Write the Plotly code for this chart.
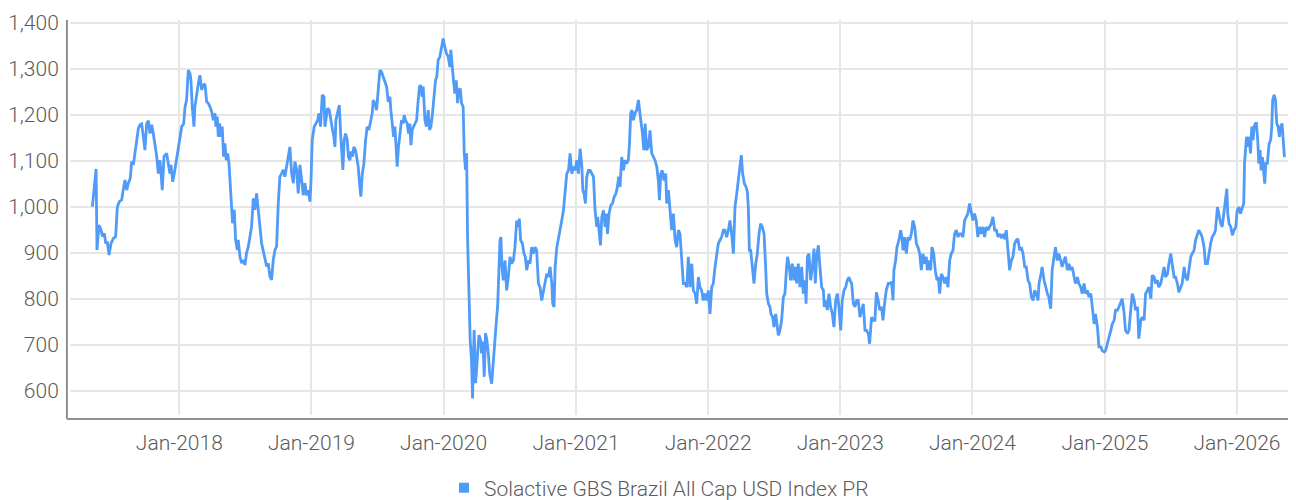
import numpy as np
import pandas as pd
import plotly.graph_objects as go

SERIES_NAME = "Solactive GBS Brazil All Cap USD Index PR"

# decimal-year time stamps and index levels
t_year = [
2017.342,2017.370,2017.377,2017.392,2017.408,2017.418,2017.433,2017.443,2017.455,2017.468,2017.483,2017.501,2017.518,2017.531,2017.546,2017.564,2017.571,2017.589,2017.602,2017.614,2017.629,2017.639,2017.652,2017.665,2017.677,2017.690,2017.703,2017.715,2017.728,2017.740,2017.753,2017.766,2017.778,2017.791,2017.803,2017.816,2017.829,2017.841,2017.854,2017.871,2017.884,2017.904,2017.917,2017.929,2017.937,2017.950,2017.962,2017.972,2017.987,
2018.005,2018.018,2018.033,2018.043,2018.055,2018.068,2018.081,2018.088,2018.098,2018.111,2018.118,2018.131,2018.144,2018.156,2018.169,2018.182,2018.194,2018.207,2018.219,2018.232,2018.245,2018.257,2018.270,2018.277,2018.287,2018.295,2018.305,2018.315,2018.325,2018.335,2018.345,2018.355,2018.366,2018.376,2018.386,2018.396,2018.403,2018.416,2018.426,2018.439,2018.446,2018.459,2018.472,2018.484,2018.497,2018.509,2018.522,2018.535,2018.547,2018.560,2018.572,2018.585,2018.597,2018.610,2018.623,2018.635,2018.648,2018.661,2018.673,2018.686,2018.698,2018.711,2018.724,2018.736,2018.749,2018.761,2018.774,2018.787,2018.799,2018.812,2018.824,2018.837,
2018.850,2018.863,2018.875,2018.888,2018.900,2018.913,2018.926,2018.938,2018.951,2018.963,2018.976,2018.989,2018.996,
2019.006,2019.021,2019.034,2019.047,2019.057,2019.069,2019.082,2019.095,2019.102,2019.115,2019.122,2019.135,2019.145,2019.160,2019.170,2019.178,2019.185,2019.195,2019.211,2019.221,2019.228,2019.238,2019.248,2019.258,2019.271,2019.279,2019.291,2019.299,2019.311,2019.321,2019.334,2019.344,2019.354,2019.364,2019.374,2019.385,2019.397,2019.410,2019.422,2019.435,2019.448,2019.460,2019.468,2019.480,2019.493,2019.506,2019.518,2019.531,2019.543,2019.556,2019.569,2019.581,2019.594,2019.601,2019.611,2019.622,2019.632,2019.639,2019.649,2019.659,2019.669,2019.682,2019.695,2019.702,2019.712,2019.725,2019.735,2019.745,2019.753,2019.763,2019.773,2019.783,2019.796,2019.808,2019.818,2019.828,2019.838,2019.846,2019.859,2019.871,2019.884,2019.894,2019.904,2019.914,2019.927,2019.939,2019.949,2019.959,2019.972,2019.985,2019.997,
2020.009,2020.022,2020.035,2020.048,2020.055,2020.065,2020.075,2020.085,2020.096,2020.106,2020.116,2020.126,2020.136,2020.148,2020.156,2020.166,2020.174,2020.181,2020.186,2020.193,2020.201,2020.211,2020.219,2020.226,2020.231,2020.242,2020.249,2020.257,2020.267,2020.280,2020.287,2020.297,2020.307,2020.317,2020.327,2020.338,2020.348,
2020.363,2020.375,2020.388,2020.401,2020.408,2020.418,2020.426,2020.433,2020.441,2020.451,2020.464,2020.476,2020.489,2020.502,2020.514,2020.527,2020.539,2020.552,2020.565,2020.572,2020.582,2020.595,2020.607,2020.617,2020.628,2020.640,2020.653,2020.665,2020.678,2020.691,2020.703,2020.716,2020.728,2020.741,2020.754,2020.766,2020.779,2020.791,2020.804,2020.817,2020.824,2020.834,2020.842,2020.855,2020.867,2020.880,2020.892,2020.905,2020.918,2020.930,2020.943,2020.955,2020.968,2020.981,2020.993,
2021.006,2021.018,2021.031,2021.044,2021.051,2021.061,2021.071,2021.081,2021.094,2021.107,2021.119,2021.132,2021.144,2021.157,2021.164,2021.175,2021.185,2021.195,2021.208,2021.220,2021.228,2021.238,2021.250,2021.263,2021.276,2021.288,2021.301,2021.313,2021.323,2021.333,2021.346,2021.359,2021.371,2021.384,2021.396,2021.404,2021.414,2021.424,2021.434,2021.447,2021.459,2021.472,2021.480,2021.490,2021.503,2021.513,2021.523,2021.535,2021.548,2021.560,2021.573,2021.585,2021.598,2021.611,2021.623,2021.631,2021.641,2021.653,2021.666,2021.679,2021.686,2021.699,2021.712,2021.724,2021.737,2021.750,2021.762,2021.775,2021.787,2021.800,2021.812,2021.825,2021.838,2021.850,2021.863,2021.876,2021.888,2021.901,2021.913,2021.926,2021.938,2021.951,2021.963,2021.976,2021.989,
2022.001,2022.014,2022.027,2022.039,2022.052,2022.064,2022.077,2022.089,2022.102,2022.115,2022.127,2022.140,2022.153,2022.165,2022.178,2022.191,2022.203,2022.216,2022.228,2022.241,2022.251,2022.261,2022.274,2022.287,2022.297,2022.304,2022.312,2022.322,2022.334,2022.347,2022.360,2022.372,2022.385,2022.397,2022.410,2022.423,2022.435,2022.443,2022.456,2022.468,2022.475,2022.488,2022.498,2022.511,2022.521,2022.531,2022.543,2022.556,2022.569,2022.581,2022.594,2022.601,2022.614,2022.624,2022.637,2022.649,2022.659,2022.670,2022.682,2022.695,2022.708,2022.720,2022.733,2022.741,2022.751,2022.763,2022.776,2022.789,2022.801,2022.811,2022.821,2022.834,2022.846,2022.859,2022.872,2022.879,2022.892,2022.902,2022.914,2022.927,2022.940,2022.952,2022.965,2022.978,2022.990,
2023.003,2023.015,2023.028,2023.041,2023.053,2023.066,2023.073,2023.086,2023.099,2023.111,2023.124,2023.136,2023.149,2023.162,2023.174,2023.187,2023.199,2023.212,2023.222,2023.237,2023.248,2023.262,2023.273,2023.287,2023.298,2023.313,2023.323,2023.338,2023.348,2023.363,2023.374,2023.389,2023.399,2023.406,2023.419,2023.429,2023.444,2023.457,2023.467,2023.475,2023.487,2023.500,2023.513,2023.525,2023.538,2023.550,2023.563,2023.576,2023.588,2023.601,2023.613,2023.626,2023.638,2023.651,2023.659,2023.671,2023.684,2023.694,2023.707,2023.719,2023.732,2023.742,2023.752,2023.765,2023.777,2023.790,2023.802,2023.815,2023.828,2023.840,2023.853,2023.865,2023.878,2023.890,2023.903,2023.916,2023.928,2023.941,2023.953,2023.966,2023.979,2023.991,
2024.004,2024.016,2024.029,2024.041,2024.054,2024.067,2024.080,2024.092,2024.105,2024.117,2024.130,2024.142,2024.155,2024.168,2024.181,2024.193,2024.206,2024.218,2024.231,2024.243,2024.256,2024.269,2024.281,2024.294,2024.306,2024.319,2024.332,2024.344,2024.357,2024.369,2024.382,2024.395,2024.407,2024.420,2024.432,2024.445,2024.458,2024.470,2024.483,2024.495,2024.503,2024.518,2024.526,2024.541,2024.551,2024.566,2024.576,2024.591,2024.602,2024.616,2024.627,2024.641,2024.652,2024.667,2024.677,2024.692,2024.702,2024.717,2024.728,2024.742,2024.753,2024.768,2024.778,2024.793,2024.803,2024.818,2024.829,2024.843,2024.854,2024.868,2024.879,2024.894,2024.904,2024.919,2024.929,2024.944,2024.955,2024.969,2024.980,2024.995,
2025.005,2025.020,2025.030,2025.045,2025.056,2025.070,2025.081,2025.096,2025.106,2025.121,2025.131,2025.146,2025.156,2025.171,2025.182,2025.196,2025.207,2025.222,2025.232,2025.247,2025.257,2025.272,2025.282,2025.297,2025.308,2025.322,2025.333,2025.348,2025.358,2025.373,2025.383,2025.398,2025.408,2025.423,2025.434,2025.448,2025.459,2025.474,2025.484,2025.499,2025.509,2025.524,2025.535,2025.549,2025.560,2025.575,2025.585,2025.600,2025.610,2025.625,2025.635,2025.650,2025.661,2025.675,2025.686,2025.701,2025.711,2025.726,2025.736,2025.751,2025.761,2025.776,2025.787,2025.801,2025.812,2025.827,2025.837,2025.852,2025.862,2025.877,2025.888,2025.902,2025.910,2025.923,2025.930,2025.940,2025.953,2025.965,2025.978,2025.991,
2026.001,2026.015,2026.026,2026.041,2026.051,2026.057,2026.067,2026.072,2026.082,2026.092,2026.102,2026.112,2026.122,2026.130,2026.140,2026.147,2026.157,2026.165,2026.175,2026.182,2026.192,2026.200,2026.210,2026.218,2026.230,2026.243,2026.255,2026.263,2026.270,2026.281,2026.291,2026.301,2026.311,2026.321,2026.331,2026.341,2026.351,2026.359,
]

index_level = [
1000,1082,906,960,949,935,942,920,924,895,920,931,935,1000,1011,1015,1029,1058,1036,1051,1062,1098,1091,1116,1149,1170,1178,1180,1152,1123,1181,1187,1159,1178,1159,1134,1109,1072,1101,1036,1109,1116,1087,1072,1091,1054,1072,1091,1109,
1152,1174,1181,1217,1232,1297,1290,1275,1217,1174,1217,1246,1268,1286,1254,1264,1267,1228,1225,1217,1207,1188,1203,1174,1196,1152,1181,1152,1174,1109,1138,1101,1116,1094,1043,1015,964,993,928,906,928,891,877,884,873,899,913,935,957,1018,993,1029,1000,957,920,906,884,870,877,848,841,884,906,913,1007,1065,1072,1080,1065,1087,1101,1130,
1072,1051,1098,1080,1029,1091,1058,1025,1051,1025,1036,1011,1051,
1145,1174,1181,1188,1203,1174,1243,1239,1174,1196,1214,1210,1196,1167,1152,1130,1188,1203,1221,1159,1130,1080,1145,1159,1145,1109,1101,1120,1109,1130,1123,1109,1087,1051,1022,1072,1094,1145,1174,1167,1188,1203,1232,1225,1210,1261,1297,1293,1283,1268,1261,1228,1239,1210,1188,1152,1174,1138,1087,1130,1159,1188,1181,1199,1188,1181,1159,1181,1134,1167,1174,1181,1188,1232,1261,1264,1239,1261,1188,1174,1210,1167,1174,1196,1236,1275,1283,1319,1326,1344,1366,
1348,1333,1326,1304,1341,1297,1275,1246,1275,1225,1254,1257,1225,1217,1116,1080,1116,935,862,754,710,667,583,681,732,616,645,681,721,710,681,707,630,725,710,681,638,
615,666,702,760,782,869,927,934,869,840,883,818,847,891,876,883,912,970,956,974,927,920,898,891,862,883,876,912,898,912,905,833,825,796,818,840,854,847,869,833,789,782,869,912,934,956,970,992,1043,1072,1079,1116,1072,1087,1079,
1101,1072,1126,1087,1036,1028,1007,1065,1079,1079,1072,1065,992,956,978,941,916,978,992,956,985,941,985,1003,1007,1021,1028,1043,1065,1043,1108,1079,1101,1094,1101,1134,1203,1210,1188,1203,1210,1232,1217,1188,1159,1123,1181,1123,1130,1166,1116,1108,1101,1087,1057,1014,1072,1079,1057,1072,1007,1036,978,949,985,927,912,949,941,883,833,833,825,891,825,876,818,811,789,847,825,818,796,811,796,
818,767,825,833,869,891,920,927,934,949,949,934,949,970,941,898,999,1028,1057,1087,1112,1072,1050,1043,1032,999,905,905,876,833,876,898,941,963,956,941,869,811,789,782,767,760,738,767,745,720,731,753,803,811,869,891,869,840,876,840,869,833,876,825,869,811,840,789,891,898,840,869,909,833,891,916,869,825,818,782,796,775,811,782,767,738,796,811,782,
731,796,818,825,840,847,840,833,789,782,796,796,760,775,789,731,731,724,702,760,753,753,814,796,775,782,753,796,818,833,833,836,796,862,883,912,927,949,934,905,934,898,934,927,941,970,956,920,912,898,862,898,876,891,862,883,862,912,898,862,840,847,811,854,847,833,847,825,883,898,905,941,949,934,941,941,934,970,978,985,1007,992,
970,985,970,934,956,941,956,934,956,949,956,963,978,949,949,934,941,934,938,930,949,912,862,883,891,920,927,930,905,912,898,869,869,840,833,804,796,818,811,796,833,854,869,840,825,811,804,778,862,898,912,883,898,883,869,883,891,862,876,862,869,847,833,847,833,825,811,833,811,818,804,811,782,745,767,738,695,695,687,684,
687,702,716,731,745,753,775,775,782,796,800,767,731,724,731,775,811,796,775,782,713,753,760,753,811,818,825,800,851,847,833,840,825,833,847,869,847,854,876,898,876,847,847,833,814,825,833,869,847,840,862,891,898,905,927,941,949,941,934,912,876,876,898,920,934,941,949,999,985,963,956,985,1007,1039,985,963,956,938,949,956,
992,999,985,999,1007,1094,1123,1152,1130,1152,1116,1174,1145,1174,1181,1181,1145,1094,1123,1079,1108,1072,1050,1094,1094,1137,1145,1174,1232,1243,1232,1181,1174,1152,1174,1181,1145,1108,
]

y_ticks = [600, 700, 800, 900, 1000, 1100, 1200, 1300, 1400]
y_range = [547, 1406]
x_range = ["2017-03-05", "2026-06-13"]

LINE_COLOR = "#4f9bf7"
TEXT_COLOR = "#5b5b5b"
GRID_COLOR = "#e6e6e6"
AXIS_COLOR = "#8f8f8f"
FONT = "Roboto"


def to_datetime(dec):
    out = []
    for v in dec:
        yr = int(np.floor(v))
        start = pd.Timestamp(year=yr, month=1, day=1)
        days = (pd.Timestamp(year=yr + 1, month=1, day=1) - start).days
        out.append(start + pd.Timedelta(days=(v - yr) * days))
    return out


dates = to_datetime(t_year)

fig = go.Figure()
fig.add_trace(go.Scatter(
    x=dates, y=index_level, mode="lines",
    line=dict(color=LINE_COLOR, width=2.8),
    showlegend=False, name=SERIES_NAME,
))
# legend entry with a square swatch
fig.add_trace(go.Scatter(
    x=[None], y=[None], mode="markers",
    marker=dict(symbol="square", size=10, color=LINE_COLOR),
    name=SERIES_NAME, showlegend=True,
))

tick_font = dict(size=21, color=TEXT_COLOR, family=FONT, weight=300)

# the page adds an 8px body margin, so the figure is sized to fit the window
fig.update_layout(
    width=1288, height=492,
    margin=dict(l=62, r=0, t=12, b=85, autoexpand=False),
    paper_bgcolor="white", plot_bgcolor="white",
    font=dict(family=FONT, size=21, color=TEXT_COLOR, weight=300),
    showlegend=True,
    legend=dict(orientation="h", xref="container", yref="container",
                x=0.3385, xanchor="left", y=0.0244, yanchor="middle",
                font=dict(size=21, color=TEXT_COLOR, family=FONT, weight=300),
                itemwidth=30, bgcolor="rgba(0,0,0,0)"),
    xaxis=dict(
        type="date", range=x_range, automargin=False,
        tick0="2018-01-01", dtick="M12", tickformat="%b-%Y",
        showgrid=True, gridcolor=GRID_COLOR, gridwidth=2,
        ticks="outside", ticklen=9, tickcolor="rgba(0,0,0,0)",
        showline=False, zeroline=False,
        tickfont=tick_font,
    ),
    yaxis=dict(
        range=y_range, tickvals=y_ticks, tickformat=",d", automargin=False,
        showgrid=True, gridcolor=GRID_COLOR, gridwidth=2,
        ticks="outside", ticklen=6, tickcolor="rgba(0,0,0,0)",
        showline=False, zeroline=False,
        tickfont=tick_font,
    ),
    shapes=[
        dict(type="line", xref="paper", yref="paper", x0=-0.0025, x1=-0.0025, y0=-0.0101, y1=1.0,
             line=dict(color=AXIS_COLOR, width=2)),
        dict(type="line", xref="paper", yref="paper", x0=-0.0025, x1=1.0, y0=-0.0101, y1=-0.0101,
             line=dict(color=AXIS_COLOR, width=2)),
    ],
)

fig.write_html("out.html")
